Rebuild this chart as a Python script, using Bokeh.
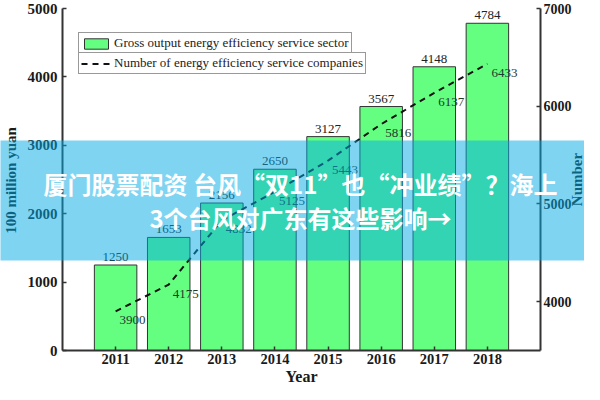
import math
from bokeh.plotting import figure
from bokeh.models import (Range1d, LinearAxis, FixedTicker, Legend, LegendItem,
                          Label, BoxAnnotation)
from bokeh.core.properties import value
from bokeh.embed import file_html
from bokeh.resources import INLINE

# ---- data ----
years = [2011, 2012, 2013, 2014, 2015, 2016, 2017, 2018]
gross_output = [1250, 1653, 2156, 2650, 3127, 3567, 4148, 4784]
companies = [3900, 4175, 4832, 5125, 5443, 5816, 6137, 6433]
left_ticks = [0, 1000, 2000, 3000, 4000, 5000]
right_ticks = [4000, 5000, 6000, 7000]
x_bounds = (2010, 2019)
left_bounds = (0, 5000)
right_bounds = (3500, 7000)
bar_name = "Gross output energy efficiency service sector"
line_name = "Number of energy efficiency service companies"
banner_line1 = "厦门股票配资 台风“双11”也“冲业绩”？海上"
banner_line2 = "3个台风对广东有这些影响→"

SERIF = "Liberation Serif"

# ---- layout (pixels) ----
W, H = 584, 384
AX_L, AX_R, AX_T, AX_B = 62, 540, 8, 350   # plot-area edges in canvas pixels


def span(lo, hi, p_lo, p_hi, total):
    """range so that lo sits at pixel p_lo and hi at p_hi on a 0..total canvas"""
    ppu = (p_hi - p_lo) / (hi - lo)
    return Range1d(lo - p_lo / ppu, hi + (total - p_hi) / ppu)


x_range = span(x_bounds[0], x_bounds[1], AX_L, AX_R, W)
y_range = span(left_bounds[0], left_bounds[1], H - AX_B, H - AX_T, H)
y2_range = span(right_bounds[0], right_bounds[1], H - AX_B, H - AX_T, H)

p = figure(width=W, height=H, x_range=x_range, y_range=y_range,
           output_backend="svg", toolbar_location=None, min_border=0,
           min_border_left=0, min_border_right=0, min_border_top=0, min_border_bottom=0)
p.extra_y_ranges = {"num": y2_range}
p.xgrid.visible = False
p.ygrid.visible = False
p.outline_line_color = None
p.background_fill_color = "white"
p.border_fill_color = "white"

right_axis = LinearAxis(y_range_name="num")
p.add_layout(right_axis, "right")

xax, yax = p.xaxis[0], p.yaxis[0]
xax.fixed_location = left_bounds[0]
yax.fixed_location = x_bounds[0]
right_axis.fixed_location = x_bounds[1]
xax.bounds = x_bounds
yax.bounds = left_bounds
right_axis.bounds = right_bounds

for ax in [xax, yax, right_axis]:
    ax.axis_line_color = "#333333"
    ax.axis_line_width = 2
    ax.major_tick_line_color = "#333333"
    ax.major_tick_line_width = 1.5
    ax.major_tick_in = 4
    ax.major_tick_out = 0
    ax.minor_tick_line_color = None
    ax.major_label_text_font = SERIF
    ax.major_label_text_font_style = "bold"
    ax.major_label_text_color = "#1a1a1a"
    ax.major_label_text_font_size = "15px"
    ax.major_label_standoff = 5

xax.ticker = FixedTicker(ticks=years)
xax.major_label_text_font_size = "14.5px"
xax.major_label_standoff = 3
yax.ticker = FixedTicker(ticks=left_ticks)
right_axis.ticker = FixedTicker(ticks=right_ticks)
right_axis.major_label_text_font_size = "14px"
right_axis.major_label_standoff = 3

bars = p.vbar(x=years, top=gross_output, width=0.8, fill_color="#64FF80",
              line_color="#333333", line_width=1)
line = p.line(years, companies, y_range_name="num", line_dash="6 5",
              line_width=2, line_color="#111111")

p.text(x=years, y=gross_output, text=[str(v) for v in gross_output],
       text_align="center", text_baseline="bottom", y_offset=-4,
       text_font=value(SERIF), text_font_size="13px", text_color="#222222")
p.text(x=years, y=companies, y_range_name="num", text=[str(v) for v in companies],
       text_align="left", text_baseline="middle", x_offset=4, y_offset=9,
       text_font=value(SERIF), text_font_size="13px", text_color="#1d3a2c")


def make_legend(item, loc):
    return Legend(items=[item], location=loc, border_line_color="#333333",
                  border_line_width=1, padding=2, margin=0, spacing=0,
                  label_text_font=SERIF, label_text_font_size="13px",
                  label_text_color="#222222", glyph_width=30, glyph_height=13,
                  label_height=13, label_standoff=3, background_fill_alpha=1)


p.add_layout(make_legend(LegendItem(label=bar_name, renderers=[bars]), (78, 330)))
p.add_layout(make_legend(LegendItem(label=line_name, renderers=[line]), (78, 310)))

title_style = dict(x_units="screen", y_units="screen", text_align="center",
                   text_baseline="middle", text_font=SERIF, text_font_style="bold",
                   text_color="#1a1a1a")
p.add_layout(Label(x=10, y=204, text="100 million yuan", angle=math.pi / 2,
                   text_font_size="15px", **title_style))
p.add_layout(Label(x=576, y=205, text="Number", angle=math.pi / 2,
                   text_font_size="15px", **title_style))
p.add_layout(Label(x=(AX_L + AX_R) / 2, y=8, text="Year",
                   text_font_size="16px", **title_style))

# overlay banner
p.add_layout(BoxAnnotation(left=-10, right=W + 10, top=H - 140, bottom=H - 260,
                           left_units="screen", right_units="screen",
                           top_units="screen", bottom_units="screen",
                           fill_color="#00AAE6", fill_alpha=0.5, line_color=None))
for txt, yy in [(banner_line1, H - 183), (banner_line2, H - 217)]:
    p.add_layout(Label(x=300, y=yy, x_units="screen", y_units="screen", text=txt,
                       text_align="center", text_baseline="middle",
                       text_font="Noto Sans CJK SC", text_font_style="bold",
                       text_font_size="24px", text_color="white"))

open("out.html", "w").write(file_html(p, INLINE))
